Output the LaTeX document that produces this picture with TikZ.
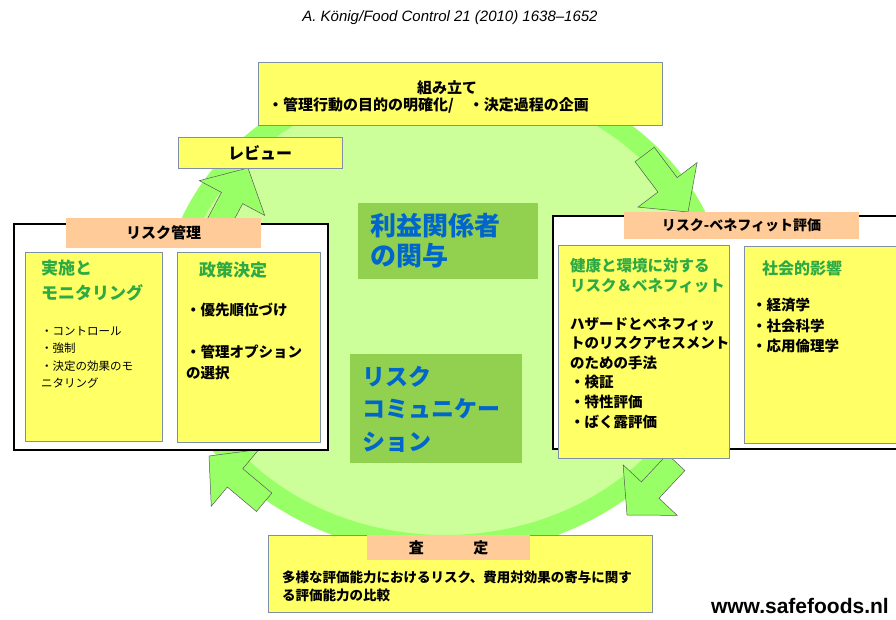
\documentclass[tikz,border=0pt]{standalone}
\usepackage{fontspec}
\setmainfont{Noto Sans CJK JP}
\newfontfamily\latinfont{Liberation Sans}
\usetikzlibrary{shapes.geometric}
\definecolor{noteyellow}{HTML}{FFFF66}
\definecolor{tagpeach}{HTML}{FFCC99}
\definecolor{ringgreen}{HTML}{99FF66}
\definecolor{discgreen}{HTML}{CCFF99}
\definecolor{hubgreen}{HTML}{92D050}
\definecolor{hubblue}{HTML}{0066CC}
\definecolor{titlegreen}{HTML}{2DAA44}
\definecolor{framegrey}{HTML}{7F8FA6}
\newcommand{\jpsize}[2]{\fontsize{#1bp}{#2bp}\selectfont}
\tikzstyle{panel} = [draw=black, line width=1.3bp, fill=white, inner sep=0pt]
\tikzstyle{note} = [draw=framegrey, line width=0.8bp, fill=noteyellow, inner sep=0pt]
\tikzstyle{tag} = [fill=tagpeach, inner sep=0pt, text centered, font=\bfseries\jpsize{15}{18}]
\tikzstyle{hub} = [fill=hubgreen, inner sep=0pt]
\tikzstyle{body} = [inner sep=0pt, anchor=north west, align=left]
\tikzstyle{cyclearrow} = [fill=ringgreen, draw=black!65, line width=0.5bp]

\begin{document}
\begin{tikzpicture}[x=1bp,y=-1bp]
    \path[use as bounding box] (0,0) rectangle (896,620);
    \clip (0,0) rectangle (896,620);
    % the cycle
    \draw [ringgreen, line width=20bp, fill=discgreen] (445,310) ellipse [x radius=274, y radius=235];
    \draw [cyclearrow, shift={(688,212)}, rotate=-53] (0,0) -- (-34,37) -- (-34,12) -- (-72,12) -- (-72,-12) -- (-34,-12) -- (-34,-37) -- cycle;
    \draw [cyclearrow, shift={(627,515)}, rotate=-133] (0,0) -- (-34,37) -- (-34,12) -- (-72,12) -- (-72,-12) -- (-34,-12) -- (-34,-37) -- cycle;
    \draw [cyclearrow, shift={(209,456)}, rotate=140] (0,0) -- (-34,37) -- (-34,12) -- (-72,12) -- (-72,-12) -- (-34,-12) -- (-34,-37) -- cycle;
    \draw [cyclearrow, shift={(248,168)}, rotate=62] (0,0) -- (-34,37) -- (-34,12) -- (-72,12) -- (-72,-12) -- (-34,-12) -- (-34,-37) -- cycle;

    \node [inner sep=0pt, font=\latinfont\itshape\jpsize{15}{18}] (source) at (450,18) {A. König/Food Control 21 (2010) 1638–1652};
    \node [inner sep=0pt, anchor=east, font=\latinfont\bfseries\jpsize{21}{24}] (web) at (889,606) {www.safefoods.nl};

    % framing
    \node [note, minimum width=404bp, minimum height=63bp] (frame) at (460,93.5) {};
    \node [inner sep=0pt, font=\bfseries\jpsize{15}{18}] (frametitle) at (447,88) {組み立て};
    \node [inner sep=0pt, anchor=west, font=\bfseries\jpsize{15}{18}] (frametext) at (268,105) {・管理行動の目的の明確化/　・決定過程の企画};

    % review
    \node [note, minimum width=164bp, minimum height=31bp, font=\bfseries\jpsize{16}{18}] (review) at (260,152.5) {レビュー};

    % risk management
    \node [panel, minimum width=314bp, minimum height=226bp] (mgmt) at (171,337) {};
    \node [tag, minimum width=195bp, minimum height=30bp] (mgmttag) at (163.5,233) {リスク管理};
    \node [note, minimum width=137bp, minimum height=189bp] (implement) at (93.5,346.5) {};
    \node [note, minimum width=143bp, minimum height=190bp] (policy) at (248.5,347) {};
    \node [body, text=titlegreen, font=\bfseries\jpsize{17}{25}] (implementhead) at (41,259.5) {実施と\\モニタリング};
    \node [body, font=\jpsize{11.5}{17.5}] (implementtext) at (41,326) {・コントロール\\・強制\\・決定の効果のモ\\ニタリング};
    \node [body, anchor=west, text=titlegreen, font=\bfseries\jpsize{17}{20}] (policyhead) at (199,270) {政策決定};
    \node [body, anchor=west, font=\bfseries\jpsize{14.5}{21}] (policyprio) at (186,310) {・優先順位づけ};
    \node [body, font=\bfseries\jpsize{14.5}{21}] (policyopt) at (186,345) {・管理オプション\\の選択};

    % risk-benefit assessment
    \node [panel, minimum width=360bp, minimum height=233bp] (rba) at (733,332.5) {};
    \node [tag, minimum width=235bp, minimum height=27bp, font=\bfseries\jpsize{14}{16}] (rbatag) at (741.5,225.5) {リスク-ベネフィット評価};
    \node [note, minimum width=171bp, minimum height=213bp] (health) at (643.5,351.5) {};
    \node [note, minimum width=160bp, minimum height=197bp] (social) at (824,344.5) {};
    \node [body, text=titlegreen, font=\bfseries\jpsize{15.5}{20}] (healthhead) at (570,258) {健康と環境に対する\\リスク＆ベネフィット};
    \node [body, font=\bfseries\jpsize{14.5}{19.6}] (healthtext) at (570,317) {ハザードとベネフィッ\\トのリスクアセスメント\\のための手法\\・検証\\・特性評価\\・ばく露評価};
    \node [body, anchor=west, text=titlegreen, font=\bfseries\jpsize{16}{20}] (socialhead) at (762,268) {社会的影響};
    \node [body, font=\bfseries\jpsize{14.5}{20.5}] (socialtext) at (752,298) {・経済学\\・社会科学\\・応用倫理学};

    % centre
    \node [hub, minimum width=180bp, minimum height=76bp] (stake) at (448,241) {};
    \node [body, text=hubblue, font=\bfseries\jpsize{26}{30}] (staketext) at (370,213) {利益関係者\\の関与};
    \node [hub, minimum width=172bp, minimum height=109bp] (comm) at (436,408.5) {};
    \node [body, text=hubblue, font=\bfseries\jpsize{23}{32.5}] (commtext) at (362,365.5) {リスク\\コミュニケー\\ション};

    % evaluation
    \node [note, minimum width=384bp, minimum height=77bp] (eval) at (460,573.5) {};
    \node [tag, minimum width=163bp, minimum height=25bp] (evaltag) at (448.5,547.5) {査\hspace{3.3em}定};
    \node [body, font=\bfseries\jpsize{13.5}{18}] (evaltext) at (282,571) {多様な評価能力におけるリスク、費用対効果の寄与に関す\\る評価能力の比較};
\end{tikzpicture}
\end{document}
